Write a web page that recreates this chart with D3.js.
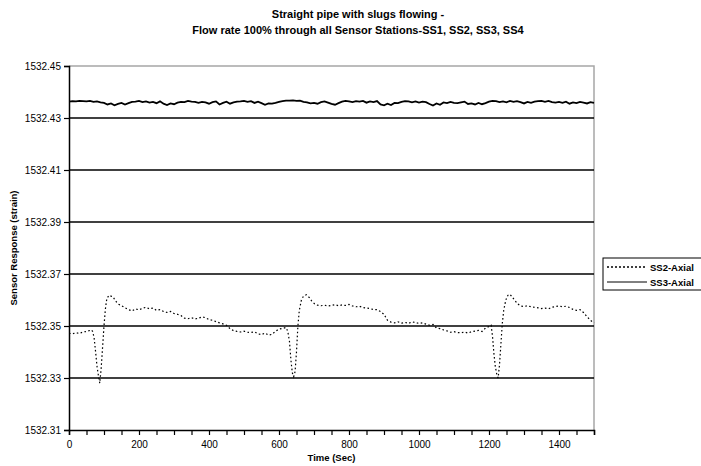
<!DOCTYPE html>
<html>
<head>
<meta charset="utf-8">
<script src="https://cdn.jsdelivr.net/npm/d3@7"></script>
<style>
  html, body { margin: 0; padding: 0; background: #fff; }
  svg { display: block; font-family: "Liberation Sans", Arial, sans-serif; }
</style>
</head>
<body>
<svg id="chart" width="701" height="466"></svg>
<script>
// ---------- data ----------
const titleLines = ["Straight pipe with slugs flowing -", "Flow rate 100% through all Sensor Stations-SS1, SS2, SS3, SS4"];
const xLabel = "Time (Sec)";
const yLabel = "Sensor Response (strain)";
const seriesNames = ["SS2-Axial", "SS3-Axial"];
const xTicks = [0, 200, 400, 600, 800, 1000, 1200, 1400];
const yTicks = [1532.31, 1532.33, 1532.35, 1532.37, 1532.39, 1532.41, 1532.43, 1532.45];

// SS3-Axial, one reading every 10 s from 0 to 1500 s
const ss3Time = [
  0,10,20,30,40,50,60,70,80,90,100,110,120,130,140,150,160,170,180,190,
  200,210,220,230,240,250,260,270,280,290,300,310,320,330,340,350,360,370,380,390,
  400,410,420,430,440,450,460,470,480,490,500,510,520,530,540,550,560,570,580,590,
  600,610,620,630,640,650,660,670,680,690,700,710,720,730,740,750,760,770,780,790,
  800,810,820,830,840,850,860,870,880,890,900,910,920,930,940,950,960,970,980,990,
  1000,1010,1020,1030,1040,1050,1060,1070,1080,1090,1100,1110,1120,1130,1140,1150,1160,1170,1180,1190,
  1200,1210,1220,1230,1240,1250,1260,1270,1280,1290,1300,1310,1320,1330,1340,1350,1360,1370,1380,1390,
  1400,1410,1420,1430,1440,1450,1460,1470,1480,1490,1500
];
const ss3Value = [
  1532.4363,1532.4365,1532.4364,1532.4366,1532.4365,1532.4364,1532.4366,1532.4362,1532.4364,1532.4360,
  1532.4358,1532.4352,1532.4356,1532.4349,1532.4354,1532.4358,1532.4352,1532.4357,1532.4362,1532.4363,
  1532.4366,1532.4361,1532.4364,1532.4359,1532.4362,1532.4357,1532.4364,1532.4355,1532.4350,1532.4356,
  1532.4353,1532.4359,1532.4362,1532.4361,1532.4366,1532.4363,1532.4362,1532.4358,1532.4362,1532.4360,
  1532.4355,1532.4361,1532.4364,1532.4352,1532.4358,1532.4363,1532.4355,1532.4360,1532.4363,1532.4364,
  1532.4366,1532.4362,1532.4365,1532.4358,1532.4363,1532.4357,1532.4351,1532.4356,1532.4355,1532.4358,
  1532.4362,1532.4365,1532.4367,1532.4367,1532.4368,1532.4366,1532.4367,1532.4362,1532.4360,1532.4356,
  1532.4358,1532.4355,1532.4361,1532.4364,1532.4359,1532.4354,1532.4351,1532.4357,1532.4363,1532.4366,
  1532.4364,1532.4361,1532.4365,1532.4363,1532.4366,1532.4359,1532.4364,1532.4361,1532.4365,1532.4352,
  1532.4349,1532.4355,1532.4350,1532.4358,1532.4357,1532.4362,1532.4365,1532.4364,1532.4360,1532.4364,
  1532.4359,1532.4363,1532.4361,1532.4354,1532.4348,1532.4356,1532.4351,1532.4360,1532.4357,1532.4362,
  1532.4358,1532.4357,1532.4360,1532.4363,1532.4354,1532.4356,1532.4352,1532.4358,1532.4353,1532.4357,
  1532.4363,1532.4366,1532.4365,1532.4361,1532.4364,1532.4360,1532.4366,1532.4362,1532.4365,1532.4361,
  1532.4356,1532.4362,1532.4358,1532.4363,1532.4365,1532.4366,1532.4362,1532.4366,1532.4361,1532.4359,
  1532.4362,1532.4358,1532.4363,1532.4355,1532.4360,1532.4357,1532.4362,1532.4359,1532.4356,1532.4361,
  1532.4358
];

// SS2-Axial, denser readings around the three slug dips
const ss2Time = [
  0,10,20,30,40,50,60,64,68,72,76,80,84,88,92,96,100,104,108,114,
  120,126,132,140,150,160,170,180,190,200,210,220,230,240,250,260,270,280,290,300,
  310,320,330,340,350,360,370,380,390,400,410,420,430,440,450,460,470,480,490,500,
  510,520,530,540,550,560,570,580,590,600,610,620,625,630,634,638,642,646,650,654,
  658,664,670,678,686,694,702,710,720,730,740,750,760,770,780,790,800,810,820,830,
  840,850,860,870,880,890,900,910,920,930,940,950,960,970,980,990,1000,1010,1020,1030,
  1040,1050,1060,1070,1080,1090,1100,1110,1120,1130,1140,1150,1160,1170,1180,1190,1200,1206,1210,1214,
  1218,1222,1226,1230,1234,1238,1242,1248,1254,1260,1266,1274,1282,1290,1300,1310,1320,1330,1340,1350,
  1360,1370,1380,1390,1400,1410,1420,1430,1440,1450,1460,1470,1480,1490,1500
];
const ss2Value = [
  1532.3472,1532.3470,1532.3474,1532.3471,1532.3477,1532.3479,1532.3483,1532.3485,1532.3478,1532.3452,
  1532.3400,1532.3345,1532.3310,1532.3280,1532.3340,1532.3420,1532.3500,1532.3565,1532.3605,1532.3618,
  1532.3615,1532.3612,1532.3598,1532.3585,1532.3578,1532.3570,1532.3563,1532.3558,1532.3566,1532.3562,
  1532.3568,1532.3572,1532.3566,1532.3569,1532.3560,1532.3563,1532.3556,1532.3552,1532.3556,1532.3548,
  1532.3545,1532.3540,1532.3530,1532.3528,1532.3532,1532.3527,1532.3530,1532.3535,1532.3532,1532.3525,
  1532.3522,1532.3517,1532.3512,1532.3508,1532.3503,1532.3490,1532.3482,1532.3479,1532.3477,1532.3480,
  1532.3476,1532.3475,1532.3478,1532.3470,1532.3467,1532.3473,1532.3465,1532.3468,1532.3480,1532.3488,
  1532.3491,1532.3494,1532.3480,1532.3440,1532.3370,1532.3320,1532.3305,1532.3325,1532.3400,1532.3500,
  1532.3560,1532.3600,1532.3615,1532.3620,1532.3610,1532.3595,1532.3585,1532.3580,1532.3578,1532.3580,
  1532.3577,1532.3579,1532.3582,1532.3578,1532.3581,1532.3579,1532.3583,1532.3577,1532.3574,1532.3576,
  1532.3571,1532.3569,1532.3567,1532.3563,1532.3563,1532.3556,1532.3545,1532.3522,1532.3515,1532.3512,
  1532.3516,1532.3511,1532.3514,1532.3510,1532.3516,1532.3513,1532.3510,1532.3512,1532.3507,1532.3503,
  1532.3506,1532.3492,1532.3490,1532.3485,1532.3481,1532.3476,1532.3478,1532.3475,1532.3474,1532.3477,
  1532.3473,1532.3478,1532.3480,1532.3483,1532.3479,1532.3492,1532.3498,1532.3503,1532.3460,1532.3395,
  1532.3345,1532.3315,1532.3300,1532.3350,1532.3430,1532.3510,1532.3560,1532.3600,1532.3618,1532.3622,
  1532.3612,1532.3598,1532.3585,1532.3577,1532.3575,1532.3578,1532.3574,1532.3572,1532.3570,1532.3567,
  1532.3569,1532.3566,1532.3572,1532.3575,1532.3577,1532.3574,1532.3576,1532.3571,1532.3564,1532.3560,
  1532.3563,1532.3552,1532.3536,1532.3522,1532.3512
];

// ---------- drawing ----------
const svg = d3.select("#chart");
const W = 701, H = 466;
const plot = { left: 69, right: 594, top: 66, bottom: 430 };

const x = d3.scaleLinear().domain([0, 1500]).range([plot.left, plot.right]);
const y = d3.scaleLinear().domain([1532.31, 1532.45]).range([plot.bottom, plot.top]);

svg.append("rect").attr("width", W).attr("height", H).attr("fill", "#fff");

// frame (top & right, gray)
svg.append("path")
  .attr("d", `M${plot.left},${plot.top}H${plot.right}V${plot.bottom}`)
  .attr("fill", "none").attr("stroke", "#a6a6a6").attr("stroke-width", 1.5);

// gridlines
svg.append("g").selectAll("line")
  .data(yTicks.filter(v => v > 1532.31 && v < 1532.45))
  .join("line")
  .attr("x1", plot.left).attr("x2", plot.right)
  .attr("y1", d => y(d)).attr("y2", d => y(d))
  .attr("stroke", "#000").attr("stroke-width", 1.5);

// y axis
const yAxis = svg.append("g").attr("transform", `translate(${plot.left},0)`)
  .call(d3.axisLeft(y).tickValues(yTicks).tickFormat(d3.format(".2f")).tickSize(5).tickPadding(3));
yAxis.select(".domain").attr("stroke", "#000").attr("stroke-width", 1.5);
yAxis.selectAll(".tick line").attr("stroke", "#000").attr("stroke-width", 1.2);
yAxis.selectAll("text").attr("font-size", 10).attr("fill", "#000")
  .attr("font-family", "Liberation Sans, Arial, sans-serif");

// x axis : ticks every 50, labels every 200
const xAxis = svg.append("g").attr("transform", `translate(0,${plot.bottom})`)
  .call(d3.axisBottom(x).tickValues(d3.range(0, 1501, 50)).tickSize(5).tickPadding(6)
    .tickFormat(d => xTicks.includes(d) ? d : ""));
xAxis.select(".domain").attr("stroke", "#000").attr("stroke-width", 1.5);
xAxis.selectAll(".tick line").attr("stroke", "#000").attr("stroke-width", 1.2);
xAxis.selectAll("text").attr("font-size", 10).attr("fill", "#000")
  .attr("font-family", "Liberation Sans, Arial, sans-serif");

// lines
const ss2 = ss2Time.map((t, i) => [t, ss2Value[i]]);
const ss3 = ss3Time.map((t, i) => [t, ss3Value[i]]);
const line = d3.line().x(d => x(d[0])).y(d => y(d[1]));

svg.append("path").datum(ss3).attr("d", line)
  .attr("fill", "none").attr("stroke", "#000").attr("stroke-width", 1.8);
svg.append("path").datum(ss2).attr("d", line)
  .attr("fill", "none").attr("stroke", "#000").attr("stroke-width", 1.2)
  .attr("stroke-dasharray", "1.6,2.4");

// titles
svg.append("text").attr("x", 358).attr("y", 18).attr("text-anchor", "middle")
  .attr("font-size", 11).attr("font-weight", "bold").text(titleLines[0]);
svg.append("text").attr("x", 358).attr("y", 34).attr("text-anchor", "middle")
  .attr("font-size", 11).attr("font-weight", "bold").text(titleLines[1]);

svg.append("text").attr("x", (plot.left + plot.right) / 2).attr("y", 461).attr("text-anchor", "middle")
  .attr("font-size", 9.5).attr("font-weight", "bold").text(xLabel);

svg.append("text").attr("transform", `translate(17,${(plot.top + plot.bottom) / 2}) rotate(-90)`)
  .attr("text-anchor", "middle").attr("font-size", 9.5).attr("font-weight", "bold").text(yLabel);

// legend
const lg = svg.append("g").attr("transform", "translate(603,258)");
lg.append("rect").attr("x", 0).attr("y", 0).attr("width", 100).attr("height", 32)
  .attr("fill", "#fff").attr("stroke", "#000").attr("stroke-width", 1);
const legendStyles = [
  { dash: "2,2", width: 1.5 },
  { dash: null, width: 1 }
];
seriesNames.forEach((name, i) => {
  const yy = 9 + i * 15;
  lg.append("line").attr("x1", 4).attr("x2", 44).attr("y1", yy).attr("y2", yy)
    .attr("stroke", "#000").attr("stroke-width", legendStyles[i].width)
    .attr("stroke-dasharray", legendStyles[i].dash);
  lg.append("text").attr("x", 47).attr("y", yy + 3.5).attr("font-size", 9.5)
    .attr("font-weight", "bold").text(name);
});
</script>
</body>
</html>
